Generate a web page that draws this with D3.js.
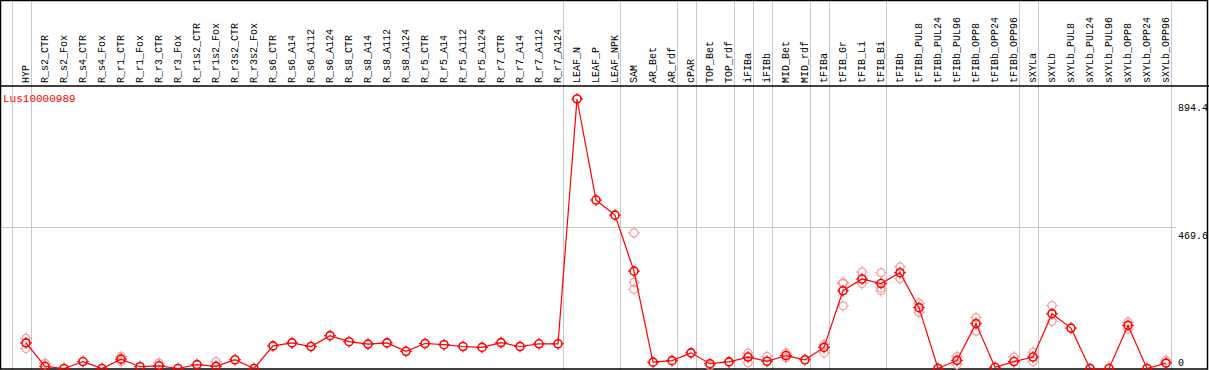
<!DOCTYPE html>
<html>
<head>
<meta charset="utf-8">
<script src="https://cdn.jsdelivr.net/npm/d3@7"></script>
<style>
body { margin: 0; background: #fff; }
svg text { font-family: "Liberation Mono", "DejaVu Sans Mono", monospace; }
</style>
</head>
<body>
<div id="chart"></div>
<script>
var geneName = "Lus10000989";

var categories = ["HYP", "R_s2_CTR", "R_s2_Fox", "R_s4_CTR", "R_s4_Fox", "R_r1_CTR", "R_r1_Fox",
    "R_r3_CTR", "R_r3_Fox", "R_r1s2_CTR", "R_r1s2_Fox", "R_r3s2_CTR", "R_r3s2_Fox", "R_s6_CTR",
    "R_s6_A14", "R_s6_A112", "R_s6_A124", "R_s8_CTR", "R_s8_A14", "R_s8_A112", "R_s8_A124",
    "R_r5_CTR", "R_r5_A14", "R_r5_A112", "R_r5_A124", "R_r7_CTR", "R_r7_A14", "R_r7_A112",
    "R_r7_A124", "LEAF_N", "LEAF_P", "LEAF_NPK", "SAM", "AR_Bet", "AR_rdf", "cPAR", "TOP_Bet",
    "TOP_rdf", "iFIBa", "iFIBb", "MID_Bet", "MID_rdf", "tFIBa", "tFIB_Gr", "tFIB_Li", "tFIB_Bi",
    "tFIBb", "tFIBb_PUL8", "tFIBb_PUL24", "tFIBb_PUL96", "tFIBb_OPP8", "tFIBb_OPP24", "tFIBb_OPP96",
    "sXYLa", "sXYLb", "sXYLb_PUL8", "sXYLb_PUL24", "sXYLb_PUL96", "sXYLb_OPP8", "sXYLb_OPP24",
    "sXYLb_OPP96"];

// mean expression per sample
var means = [85, 7, 0, 23, 0, 31, 6, 9, 0, 13, 7, 29, 0, 75, 85, 73, 109, 89, 81, 85, 57,
    83, 79, 73, 70, 86, 73, 82, 82, 894.4, 559, 509, 323, 21, 26, 52, 16, 22, 38, 24, 43, 29,
    70, 258, 297, 282, 318, 202, 0, 27, 149, 4, 23, 38, 182, 134, 0, 0, 143, 0, 18];

// replicate values that show apart from the mean
var replicates = [[100, 66], [17], [], [], [], [40, 23], [], [18], [], [], [23], [], [], [],
    [], [], [], [], [], [], [], [], [], [], [], [], [], [], [], [], [], [], [450, 286, 263],
    [], [], [], [10], [], [51, 19], [40], [51, 36], [], [80, 52], [285, 282, 208], [320, 282],
    [318, 267, 258], [337, 298], [217, 187], [], [40, 13], [169, 124], [], [38], [54, 23],
    [209, 157], [], [], [], [154, 130], [], [27]];

// last sample index of each group (-1 = left edge)
var groupEnds = [-1, 0, 28, 31, 34, 35, 37, 38, 39, 41, 42, 45, 52, 53, 60];

var yTicks = [0, 469.6, 894.4];

var width = 1209, height = 370, headerY = 86;

var svg = d3.select("#chart")
    .append("svg")
    .attr("width", width)
    .attr("height", height);

var xScale = d3.scalePoint()
    .domain(categories)
    .range([26, 1166]);

var yScale = d3.scaleLinear()
    .domain([0, 894.4])
    .range([368.5, 99]);

function groupLineX(i) {
    return xScale(categories[0]) + i * xScale.step() + 4.5;
}

// grey separators between sample groups
svg.selectAll(".group-line")
    .data(groupEnds)
    .enter().append("line")
    .attr("class", "group-line")
    .attr("x1", function(d) { return Math.round(groupLineX(d)) + 0.5; })
    .attr("x2", function(d) { return Math.round(groupLineX(d)) + 0.5; })
    .attr("y1", 0)
    .attr("y2", height)
    .style("stroke", "#c8c8c8")
    .style("stroke-width", 1);

// grey line at the middle tick
svg.append("line")
    .attr("x1", 0)
    .attr("x2", 1176)
    .attr("y1", Math.round(yScale(yTicks[1])) + 0.5)
    .attr("y2", Math.round(yScale(yTicks[1])) + 0.5)
    .style("stroke", "#c8c8c8")
    .style("stroke-width", 1);

// frame and header divider
svg.append("rect")
    .attr("x", 0.5)
    .attr("y", 0.5)
    .attr("width", width - 2)
    .attr("height", height - 1.5)
    .style("fill", "none")
    .style("stroke", "black")
    .style("stroke-width", 1.5);

svg.append("line")
    .attr("x1", 0)
    .attr("x2", width)
    .attr("y1", headerY)
    .attr("y2", headerY)
    .style("stroke", "black")
    .style("stroke-width", 1.5);

// sample names
svg.selectAll(".cat-label")
    .data(categories)
    .enter().append("text")
    .attr("class", "cat-label")
    .attr("transform", function(d) { return "translate(" + (Math.round(xScale(d)) + 3) + "," + 83 + ") rotate(-90)"; })
    .style("font-size", "10px")
    .style("fill", "black")
    .text(function(d) { return d; });

// right side values
svg.selectAll(".y-label")
    .data(yTicks)
    .enter().append("text")
    .attr("class", "y-label")
    .attr("x", 1178)
    .attr("y", function(d) { return d === 0 ? yScale(d) - 3 : yScale(d) + 12; })
    .style("font-size", "10px")
    .style("fill", "black")
    .text(function(d) { return d; });

svg.append("text")
    .attr("x", 3)
    .attr("y", 102)
    .style("font-size", "11px")
    .style("fill", "red")
    .text(geneName);

function drawMarker(g, color, sw) {
    var r = 4;
    g.append("circle")
        .attr("r", r)
        .style("fill", "none")
        .style("stroke", color)
        .style("stroke-width", sw);
    [[0, -r - 2, 0, -r], [0, r, 0, r + 2], [-r - 2, 0, -r, 0], [r, 0, r + 2, 0]].forEach(function(t) {
        g.append("line")
            .attr("x1", t[0]).attr("y1", t[1])
            .attr("x2", t[2]).attr("y2", t[3])
            .style("stroke", color)
            .style("stroke-width", 1);
    });
}

// replicate points
var repPoints = [];
replicates.forEach(function(vals, i) {
    vals.forEach(function(v) {
        repPoints.push({ cat: categories[i], value: v });
    });
});

svg.selectAll(".rep")
    .data(repPoints)
    .enter().append("g")
    .attr("class", "rep")
    .attr("transform", function(d) { return "translate(" + xScale(d.cat) + "," + yScale(d.value) + ")"; })
    .each(function() { drawMarker(d3.select(this), "#f0a0a0", 1.2); });

// mean line
var line = d3.line()
    .x(function(d, i) { return xScale(categories[i]); })
    .y(function(d) { return yScale(d); });

svg.append("path")
    .attr("d", line(means))
    .attr("fill", "none")
    .attr("stroke", "red")
    .attr("stroke-width", 1.2);

svg.selectAll(".mean")
    .data(means)
    .enter().append("g")
    .attr("class", "mean")
    .attr("transform", function(d, i) { return "translate(" + xScale(categories[i]) + "," + yScale(d) + ")"; })
    .each(function() { drawMarker(d3.select(this), "red", 1.6); });
</script>
</body>
</html>
